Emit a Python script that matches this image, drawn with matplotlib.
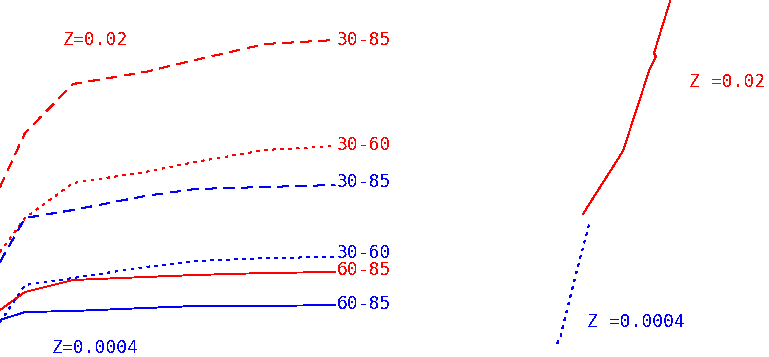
import matplotlib
matplotlib.use("Agg")
import matplotlib.pyplot as plt

plt.rcParams['lines.scale_dashes'] = False
plt.rcParams['text.antialiased'] = False

# ---- data (horizontal/vertical units as in the drawing) ----
left_x = [0, 25, 73, 145, 195, 265, 335]

z002_30_85 = [187, 133, 84, 72, 60, 44, 40]
z002_30_60 = [252, 218, 183, 172, 162, 150, 146]
z002_60_85 = [310, 292, 280, 277, 275, 273, 272]

z0004_30_85 = [262, 218, 210, 196, 189, 187, 185]
z0004_30_60 = [322, 285, 278, 267, 261, 258, 257]
z0004_60_85 = [320, 312, 311, 308, 306, 306, 305]

right_red_x = [583, 623, 650, 656, 654, 672]
right_red_y = [214, 151, 68, 57, 53, -5]
right_blue_x = [589, 577, 560, 555]
right_blue_y = [225, 270, 338, 348]

series_labels = ["30-85", "30-60", "60-85"]
z_labels = ["Z=0.02", "Z=0.0004"]
right_labels = ["Z =0.02", "Z =0.0004"]

RED = "#ff0000"
BLUE = "#0000ff"

fig = plt.figure(figsize=(7.69, 3.57), dpi=100)
ax = fig.add_axes([0, 0, 1, 1])
ax.set_xlim(0, 769)
ax.set_ylim(357, 0)
ax.axis("off")

lw = 0.65
dash = (7.5, 5.5)
dot = (1.5, 4.3)

ax.plot(left_x, z002_30_85, color=RED, lw=lw, dashes=dash, antialiased=False)
ax.plot(left_x, z002_30_60, color=RED, lw=lw, dashes=dot, antialiased=False)
ax.plot(left_x, z002_60_85, color=RED, lw=lw, antialiased=False)
ax.plot(left_x, z0004_30_85, color=BLUE, lw=lw, dashes=dash, antialiased=False)
ax.plot(left_x, z0004_30_60, color=BLUE, lw=lw, dashes=dot, antialiased=False)
ax.plot(left_x, z0004_60_85, color=BLUE, lw=lw, antialiased=False)

ax.plot(right_red_x, right_red_y, color=RED, lw=lw, antialiased=False)
ax.plot(right_blue_x, right_blue_y, color=BLUE, lw=lw, dashes=dot, antialiased=False)

font = dict(family="DejaVu Sans Mono", fontsize=13, fontweight="normal", va="center", ha="left")

lx = 337
ax.text(lx, z002_30_85[-1], series_labels[0], color=RED, **font)
ax.text(lx, z002_30_60[-1] - 1, series_labels[1], color=RED, **font)
ax.text(lx, z0004_30_85[-1] - 3, series_labels[0], color=BLUE, **font)
ax.text(lx, z0004_30_60[-1] - 4, series_labels[1], color=BLUE, **font)
ax.text(lx, z002_60_85[-1] - 2, series_labels[2], color=RED, **font)
ax.text(lx, z0004_60_85[-1] - 1, series_labels[2], color=BLUE, **font)

ax.text(63, 40, z_labels[0], color=RED, **font)
ax.text(52, 348, z_labels[1], color=BLUE, **font)
ax.text(689, 82, right_labels[0], color=RED, **font)
ax.text(587, 322, right_labels[1], color=BLUE, **font)

fig.savefig("out.png", dpi=100)
